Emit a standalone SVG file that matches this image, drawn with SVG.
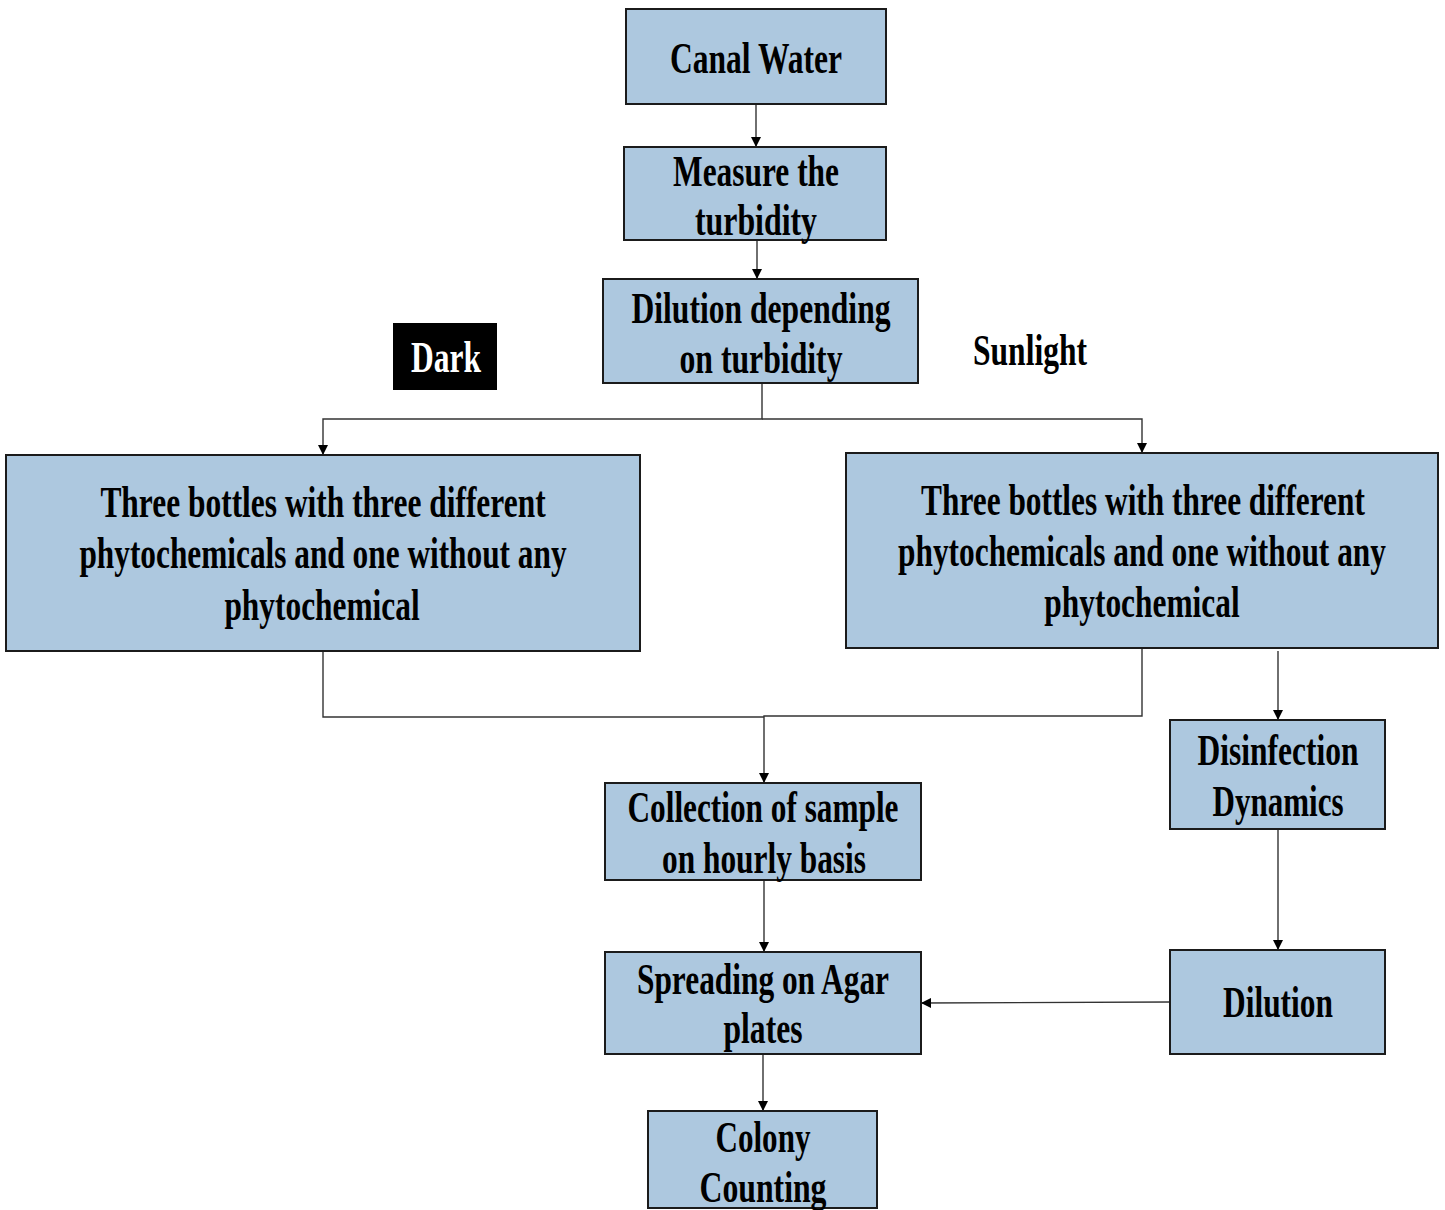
<svg xmlns="http://www.w3.org/2000/svg" width="1445" height="1210" viewBox="0 0 1445 1210">
<defs>
<style>
.box{fill:#adc8df;stroke:#1b1b1b;stroke-width:2}
.t{font-family:"Liberation Serif","Times New Roman",serif;font-weight:bold;font-size:44px;fill:#000;text-anchor:middle}
.w{fill:#fff}
.c{fill:none;stroke:#333;stroke-width:1.4}
</style>
<marker id="ah" markerWidth="10" markerHeight="10" refX="9" refY="5" orient="auto" markerUnits="userSpaceOnUse">
<path d="M0,0 L10,5 L0,10 z" fill="#000"/>
</marker>
</defs>
<rect width="1445" height="1210" fill="#fff"/>
<g id="connectors">
<path class="c" d="M756,104 V146" marker-end="url(#ah)"/>
<path class="c" d="M757,240 V278" marker-end="url(#ah)"/>
<path class="c" d="M762,383 V419 H323 V454" marker-end="url(#ah)"/>
<path class="c" d="M762,419 H1142 V452" marker-end="url(#ah)"/>
<path class="c" d="M323,651 V717 H764"/>
<path class="c" d="M1142,648 V716 H764 V782" marker-end="url(#ah)"/>
<path class="c" d="M1278,651 V719" marker-end="url(#ah)"/>
<path class="c" d="M1278,829 V949" marker-end="url(#ah)"/>
<path class="c" d="M764,880 V951" marker-end="url(#ah)"/>
<path class="c" d="M1170,1002 L922,1003" marker-end="url(#ah)"/>
<path class="c" d="M763,1054 V1110" marker-end="url(#ah)"/>
</g>
<g id="canal">
<rect class="box" x="626" y="9" width="260" height="95"/>
<text class="t" x="756" y="73" textLength="172" lengthAdjust="spacingAndGlyphs">Canal Water</text>
</g>
<g id="measure">
<rect class="box" x="624" y="147" width="262" height="93"/>
<text class="t" x="756" y="186" textLength="166" lengthAdjust="spacingAndGlyphs">Measure the</text>
<text class="t" x="756" y="235" textLength="122" lengthAdjust="spacingAndGlyphs">turbidity</text>
</g>
<g id="dilution1">
<rect class="box" x="603" y="279" width="315" height="104"/>
<text class="t" x="761" y="323" textLength="259" lengthAdjust="spacingAndGlyphs">Dilution depending</text>
<text class="t" x="761" y="373" textLength="163" lengthAdjust="spacingAndGlyphs">on turbidity</text>
</g>
<g id="dark">
<rect x="393" y="323" width="104" height="67" fill="#000"/>
<text class="t w" x="446" y="372" textLength="70" lengthAdjust="spacingAndGlyphs">Dark</text>
</g>
<g id="sunlight">
<text class="t" x="1030" y="365" textLength="114" lengthAdjust="spacingAndGlyphs">Sunlight</text>
</g>
<g id="left-bottles">
<rect class="box" x="6" y="455" width="634" height="196"/>
<g transform="translate(323 0) scale(0.7 1)">
<text class="t" x="0" y="517" textLength="636" lengthAdjust="spacingAndGlyphs">Three bottles with three different</text>
<text class="t" x="0" y="568" textLength="696" lengthAdjust="spacingAndGlyphs">phytochemicals and one without any</text>
<text class="t" x="-1.4" y="620" textLength="279" lengthAdjust="spacingAndGlyphs">phytochemical</text>
</g>
</g>
<g id="right-bottles">
<rect class="box" x="846" y="453" width="592" height="195"/>
<g transform="translate(1142 0) scale(0.7 1)">
<text class="t" x="1.4" y="515" textLength="634" lengthAdjust="spacingAndGlyphs">Three bottles with three different</text>
<text class="t" x="0" y="566" textLength="697" lengthAdjust="spacingAndGlyphs">phytochemicals and one without any</text>
<text class="t" x="0" y="617" textLength="279" lengthAdjust="spacingAndGlyphs">phytochemical</text>
</g>
</g>
<g id="collection">
<rect class="box" x="605" y="783" width="316" height="97"/>
<text class="t" x="763" y="822" textLength="271" lengthAdjust="spacingAndGlyphs">Collection of sample</text>
<text class="t" x="764" y="873" textLength="204" lengthAdjust="spacingAndGlyphs">on hourly basis</text>
</g>
<g id="disinfection">
<rect class="box" x="1170" y="720" width="215" height="109"/>
<text class="t" x="1278" y="765" textLength="161" lengthAdjust="spacingAndGlyphs">Disinfection</text>
<text class="t" x="1278" y="816" textLength="131" lengthAdjust="spacingAndGlyphs">Dynamics</text>
</g>
<g id="spreading">
<rect class="box" x="605" y="952" width="316" height="102"/>
<text class="t" x="763" y="994" textLength="252" lengthAdjust="spacingAndGlyphs">Spreading on Agar</text>
<text class="t" x="763" y="1043" textLength="79" lengthAdjust="spacingAndGlyphs">plates</text>
</g>
<g id="dilution2">
<rect class="box" x="1170" y="950" width="215" height="104"/>
<text class="t" x="1278" y="1017" textLength="110" lengthAdjust="spacingAndGlyphs">Dilution</text>
</g>
<g id="colony">
<rect class="box" x="648" y="1111" width="229" height="97"/>
<text class="t" x="763" y="1152" textLength="95" lengthAdjust="spacingAndGlyphs">Colony</text>
<text class="t" x="763" y="1202" textLength="127" lengthAdjust="spacingAndGlyphs">Counting</text>
</g>
</svg>
